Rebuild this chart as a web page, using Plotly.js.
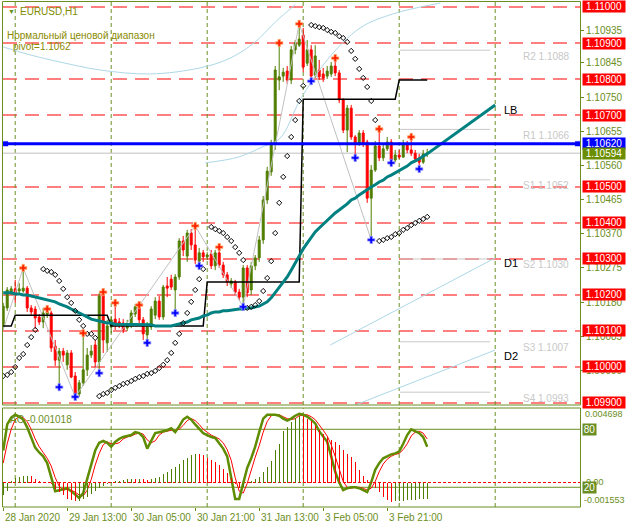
<!DOCTYPE html>
<html><head><meta charset="utf-8">
<script src="https://cdn.plot.ly/plotly-3.0.1.min.js"></script>
<style>html,body{margin:0;padding:0;background:#fff;}#chart{width:626px;height:528px;}</style>
</head><body><div id="chart"></div>
<script>
// ---------- DATA (EURUSD H1, bar index 0 = 28 Jan 2020 21:00) ----------
const openP = [1.10114,1.10164,1.10208,1.10217,1.10211,1.10211,1.10219,1.10164,1.10161,1.10139,
1.10125,1.10147,1.10150,1.10058,1.10019,1.10044,1.10006,1.10039,1.09975,1.09925,
1.09956,1.09992,1.10033,1.10061,1.10014,1.10197,1.10067,1.10111,1.10133,1.10125,
1.10122,1.10108,1.10117,1.10147,1.10164,1.10131,1.10089,1.10111,1.10144,1.10183,
1.10139,1.10225,1.10244,1.10214,1.10250,1.10350,1.10308,1.10372,1.10339,1.10294,
1.10317,1.10306,1.10314,1.10281,1.10317,1.10283,1.10256,1.10231,1.10236,1.10208,
1.10194,1.10275,1.10214,1.10281,1.10303,1.10353,1.10464,1.10542,1.10622,1.10797,
1.10808,1.10822,1.10797,1.10881,1.10894,1.10922,1.10844,1.10881,1.10811,1.10825,
1.10814,1.10808,1.10814,1.10836,1.10817,1.10742,1.10658,1.10719,1.10639,1.10622,
1.10650,1.10625,1.10469,1.10547,1.10614,1.10581,1.10606,1.10625,1.10575,1.10589,
1.10583,1.10619,1.10603,1.10594,1.10581,1.10569,1.10592];
const highP = [1.10178,1.10222,1.10225,1.10242,1.10233,1.10275,1.10225,1.10172,1.10169,1.10147,
1.10164,1.10161,1.10156,1.10075,1.10053,1.10053,1.10047,1.10047,1.09986,1.09964,
1.10094,1.10053,1.10061,1.10075,1.10206,1.10208,1.10131,1.10142,1.10178,1.10136,
1.10133,1.10131,1.10158,1.10175,1.10172,1.10139,1.10125,1.10169,1.10194,1.10197,
1.10228,1.10250,1.10256,1.10258,1.10358,1.10364,1.10381,1.10383,1.10392,1.10331,
1.10325,1.10319,1.10325,1.10325,1.10333,1.10292,1.10264,1.10247,1.10242,1.10217,
1.10283,1.10283,1.10292,1.10311,1.10364,1.10475,1.10556,1.10631,1.10836,1.10900,
1.10831,1.10836,1.10892,1.10908,1.10953,1.10942,1.10908,1.10894,1.10894,1.10853,
1.10831,1.10836,1.10847,1.10858,1.10825,1.10747,1.10728,1.10728,1.10644,1.10658,
1.10658,1.10631,1.10561,1.10628,1.10661,1.10617,1.10639,1.10633,1.10603,1.10603,
1.10631,1.10628,1.10639,1.10603,1.10592,1.10603,1.10606];
const lowP = [1.10103,1.10156,1.10200,1.10178,1.10200,1.10206,1.10153,1.10142,1.10106,1.10117,
1.10108,1.10136,1.10042,1.10003,1.09944,1.10014,1.09992,1.09969,1.09917,1.09917,
1.09947,1.09975,1.10025,1.09997,1.09983,1.10039,1.10042,1.10094,1.10103,1.10108,
1.10094,1.10100,1.10108,1.10139,1.10122,1.10075,1.10067,1.10103,1.10133,1.10131,
1.10131,1.10194,1.10214,1.10150,1.10242,1.10308,1.10292,1.10325,1.10286,1.10281,
1.10292,1.10297,1.10272,1.10269,1.10275,1.10247,1.10225,1.10219,1.10200,1.10186,
1.10167,1.10194,1.10200,1.10269,1.10292,1.10342,1.10453,1.10531,1.10603,1.10769,
1.10792,1.10786,1.10786,1.10869,1.10889,1.10819,1.10836,1.10794,1.10803,1.10797,
1.10792,1.10800,1.10806,1.10808,1.10733,1.10650,1.10597,1.10631,1.10581,1.10614,
1.10611,1.10456,1.10353,1.10542,1.10572,1.10572,1.10600,1.10567,1.10569,1.10578,
1.10581,1.10594,1.10586,1.10569,1.10550,1.10564,1.10583];
const closeP = [1.10169,1.10214,1.10217,1.10203,1.10217,1.10219,1.10164,1.10153,1.10136,1.10125,
1.10150,1.10153,1.10053,1.10019,1.10044,1.10033,1.10039,1.09972,1.09925,1.09956,
1.09992,1.10033,1.10044,1.10014,1.10197,1.10075,1.10114,1.10131,1.10122,1.10119,
1.10103,1.10119,1.10150,1.10167,1.10131,1.10092,1.10111,1.10161,1.10183,1.10139,
1.10222,1.10219,1.10222,1.10250,1.10350,1.10325,1.10372,1.10339,1.10297,1.10317,
1.10306,1.10311,1.10281,1.10317,1.10283,1.10256,1.10236,1.10239,1.10208,1.10194,
1.10275,1.10206,1.10281,1.10303,1.10353,1.10464,1.10544,1.10622,1.10825,1.10806,
1.10819,1.10797,1.10881,1.10900,1.10911,1.10833,1.10881,1.10808,1.10864,1.10806,
1.10803,1.10822,1.10836,1.10817,1.10742,1.10658,1.10719,1.10639,1.10619,1.10650,
1.10622,1.10469,1.10547,1.10614,1.10581,1.10606,1.10625,1.10575,1.10589,1.10583,
1.10619,1.10603,1.10594,1.10578,1.10569,1.10592,1.10594];
const maP = [1.10206,1.10206,1.10206,1.10203,1.10203,1.10200,1.10200,1.10197,1.10194,1.10192,
1.10189,1.10186,1.10183,1.10181,1.10175,1.10172,1.10167,1.10161,1.10156,1.10150,
1.10144,1.10139,1.10133,1.10131,1.10128,1.10125,1.10122,1.10122,1.10119,1.10119,
1.10119,1.10119,1.10119,1.10119,1.10117,1.10117,1.10117,1.10117,1.10114,1.10114,
1.10114,1.10114,1.10114,1.10117,1.10119,1.10122,1.10125,1.10131,1.10133,1.10136,
1.10142,1.10144,1.10150,1.10153,1.10153,1.10156,1.10156,1.10158,1.10158,1.10161,
1.10161,1.10164,1.10164,1.10167,1.10169,1.10175,1.10181,1.10192,1.10206,1.10219,
1.10233,1.10250,1.10269,1.10289,1.10308,1.10328,1.10344,1.10361,1.10375,1.10386,
1.10397,1.10408,1.10419,1.10428,1.10436,1.10444,1.10453,1.10464,1.10469,1.10478,
1.10486,1.10492,1.10500,1.10506,1.10514,1.10519,1.10528,1.10533,1.10539,1.10547,
1.10553,1.10558,1.10567,1.10572,1.10578,1.10586,1.10592];
const sarP = [1.09975,1.09978,1.09986,1.10000,1.10025,1.10036,1.10061,1.10083,1.10103,null,
1.10272,1.10267,1.10264,1.10256,1.10239,1.10217,1.10194,1.10178,1.10156,1.10131,
1.10114,1.10092,1.10092,1.10081,1.09919,1.09925,1.09928,1.09936,1.09942,1.09947,
1.09953,1.09956,1.09961,1.09967,1.09972,1.09975,1.09981,1.09983,1.09989,1.09997,
1.10006,1.10019,1.10039,1.10067,1.10092,1.10122,1.10150,1.10181,1.10214,1.10244,
1.10272,null,1.10389,1.10383,1.10378,1.10372,1.10361,1.10350,1.10333,1.10317,
1.10297,1.10164,1.10167,1.10172,1.10183,1.10211,1.10247,1.10294,1.10372,1.10456,
1.10528,1.10586,1.10639,1.10686,1.10739,1.10781,null,1.10950,1.10947,1.10944,
1.10942,1.10936,1.10931,1.10928,1.10919,1.10914,1.10903,1.10878,1.10856,1.10828,
1.10803,1.10778,1.10739,1.10686,1.10350,1.10353,1.10358,1.10361,1.10369,1.10372,
1.10381,1.10386,1.10394,1.10400,1.10406,1.10411,1.10417];
const upFractalIdx = [5,11,20,25,28,34,48,54,69,74,83,94,102];
const dnFractalIdx = [14,18,24,36,43,49,60,77,88,92,97,104];
const zigzagIdx = [0,5,18,48,60,74,92];
const dayStartIdx = [0,3,27,51,75,99];
const dayLevel = [1.10114,1.10144,1.10114,1.10236,1.10744,1.10797];
// light-blue range lines (index, price)
const bandUpIdx = [0,6.75,14.25,24.25,36.75,49.25,56.75,63,68,73];
const bandUpP = [1.10889,1.10867,1.10847,1.10825,1.10814,1.10831,1.10858,1.10903,1.10958,1.11006];
const bandMidIdx = [50.5,58.75,64.75,69.25,74.25,81,89.25,97.5,109.25];
const bandMidP = [1.10567,1.10583,1.10611,1.10636,1.10742,1.10853,1.10942,1.10981,1.11011];
const d1Idx = [81.75,123], d1P = [1.10061,1.10303];
const d2Idx = [81.75,123], d2P = [1.09867,1.10047];
const lbIdx = [106,123], lbP = [1.10592,1.10728];
// oscillators
const stochK = [58,85,92,95,93,90,82,72,61,56,52,45,30,16,17,18,19,16,12,9,
14,28,42,58,66,68,66,62,67,70,72,73,74,77,76,72,60,68,76,77,
78,79,81,77,83,90,93,90,85,80,76,74,72,71,66,60,52,31,8,8,
25,40,50,62,77,91,95,95,95,94,91,89,91,94,96,95,93,90,86,78,
73,67,52,36,25,17,19,20,20,19,17,15,25,38,45,50,52,54,55,57,
65,74,80,78,76,72,62];
const stochD = [45,65,80,90,93,92,88,80,70,62,56,50,42,30,21,17,18,17,15,12,
11,17,28,43,55,64,67,65,65,66,70,72,73,75,76,75,69,66,68,74,
77,78,79,79,80,84,89,91,89,85,80,77,74,72,70,66,59,48,30,16,
14,24,38,51,63,77,88,94,95,95,93,91,90,91,94,95,95,93,90,85,
79,73,64,52,38,26,20,19,20,20,19,17,19,26,36,44,49,52,54,55,
59,65,73,77,78,76,70];
const acVal = [-0.00080,-0.00050,0.00012,0.00030,0.00037,0.00043,0.00043,0.00042,0.00020,0.00008,
0.00004,0.00000,-0.00012,-0.00040,-0.00060,-0.00080,-0.00100,-0.00108,-0.00116,-0.00112,
-0.00100,-0.00090,-0.00070,-0.00050,-0.00033,-0.00020,-0.00012,0.00002,0.00008,0.00012,
0.00016,0.00020,0.00024,0.00022,0.00024,0.00020,0.00016,0.00022,0.00029,0.00037,
0.00050,0.00064,0.00085,0.00095,0.00116,0.00137,0.00153,0.00168,0.00178,0.00174,
0.00168,0.00153,0.00137,0.00126,0.00106,0.00085,0.00058,0.00029,-0.00008,-0.00033,
-0.00029,-0.00004,0.00012,0.00020,0.00037,0.00064,0.00095,0.00132,0.00199,0.00240,
0.00323,0.00344,0.00375,0.00402,0.00416,0.00410,0.00395,0.00381,0.00354,0.00327,
0.00302,0.00282,0.00265,0.00250,0.00230,0.00199,0.00178,0.00157,0.00126,0.00075,
0.00043,0.00017,0.00004,-0.00033,-0.00060,-0.00091,-0.00108,-0.00118,-0.00116,-0.00115,
-0.00113,-0.00111,-0.00109,-0.00107,-0.00105,-0.00104,-0.00102];
const redLevels = [1.11000,1.10900,1.10800,1.10700,1.10500,1.10400,1.10300,1.10200,1.10100,1.10000,1.09900];
const priceTicks = [1.10935,1.10845,1.10750,1.10655,1.10560,1.10465,1.10370,1.10275,1.10180,1.10085,1.09990];
const pivotValue = 1.1062;
const bidValue = 1.10594;
const pivotNames = ['R2','R1','S1','S2','S3','S4'];
const pivotLevels = [1.1088,1.1066,1.1052,1.1030,1.1007,1.0993];
const timeTickIdx = [0,16,32,48,64,80,96];
const timeTickText = ['28 Jan 2020','29 Jan 13:00','30 Jan 05:00','30 Jan 21:00','31 Jan 13:00','3 Feb 05:00','3 Feb 21:00'];
const gridIdx = [3,27,51,75,99,123];

// ---------- LAYOUT HELPERS ----------
const W=626,H=528;
const px=x=>x/W, py=y=>1-y/H;
const OL='#6b8e23', GREEN='#4f7d00', FONT='Liberation Sans, Arial, sans-serif';
const idx = openP.map((_,i)=>i);
const XR=[-0.05,144.2];
const X0=3, BARW=4; // chart left pixel, pixels per bar (for paper placement of time labels)

const traces=[];
[[bandUpIdx,bandUpP],[bandMidIdx,bandMidP],[d1Idx,d1P],[d2Idx,d2P]].forEach(([xx,yy])=>{
  traces.push({type:'scatter',mode:'lines',x:xx,y:yy,line:{color:'#add8e6',width:1,shape:'spline'},hoverinfo:'skip',xaxis:'x',yaxis:'y'});
});
traces.push({type:'scatter',mode:'lines',x:zigzagIdx,y:zigzagIdx.map((k,j)=> j%2===0? lowP[k]:highP[k]),line:{color:'#c0c0c0',width:1},xaxis:'x',yaxis:'y',hoverinfo:'skip'});
const stepP = idx.map(i=>{let v=dayLevel[0];dayStartIdx.forEach((s,j)=>{if(i>=s)v=dayLevel[j];});return v;});
traces.push({type:'scatter',mode:'lines',x:idx,y:stepP,line:{color:'#000000',width:1.5},xaxis:'x',yaxis:'y',hoverinfo:'skip'});
traces.push({type:'candlestick',x:idx,open:openP,high:highP,low:lowP,close:closeP,
  increasing:{line:{color:GREEN,width:1},fillcolor:GREEN},
  decreasing:{line:{color:'#ff0000',width:1},fillcolor:'#ff0000'},
  whiskerwidth:0,xaxis:'x',yaxis:'y',hoverinfo:'skip'});
traces.push({type:'scatter',mode:'lines',x:idx,y:maP,line:{color:'#008080',width:3},xaxis:'x',yaxis:'y',hoverinfo:'skip'});
traces.push({type:'scatter',mode:'lines',x:lbIdx,y:lbP,line:{color:'#008080',width:3},xaxis:'x',yaxis:'y',hoverinfo:'skip'});
traces.push({type:'scatter',mode:'markers',x:idx,y:sarP,marker:{symbol:'diamond-open',size:4,color:'#000',line:{width:1,color:'#000'}},xaxis:'x',yaxis:'y',hoverinfo:'skip'});
traces.push({type:'scatter',mode:'markers',x:upFractalIdx,y:upFractalIdx.map(k=>highP[k]),marker:{symbol:'cross',size:6,color:'#ff2000',line:{color:'#ffa060',width:0.8}},xaxis:'x',yaxis:'y',hoverinfo:'skip'});
traces.push({type:'scatter',mode:'markers',x:dnFractalIdx,y:dnFractalIdx.map(k=>lowP[k]),marker:{symbol:'cross',size:6,color:'#0000ff',line:{color:'#9090ff',width:0.8}},xaxis:'x',yaxis:'y',hoverinfo:'skip'});
traces.push({type:'scatter',mode:'markers',x:[0.6,143.6],y:[pivotValue,pivotValue],marker:{symbol:'square',size:6,color:'#0000ff',line:{color:'#ffffff',width:1}},xaxis:'x',yaxis:'y',hoverinfo:'skip'});
const acColors = acVal.map((v,i)=> i===0 ? GREEN : (v>=acVal[i-1]? GREEN : '#ff0000'));
traces.push({type:'bar',x:idx,y:acVal,width:0.25,marker:{color:acColors,line:{width:0}},xaxis:'x2',yaxis:'y3',hoverinfo:'skip'});
traces.push({type:'scatter',mode:'lines',x:idx,y:stochD,line:{color:'#ff0000',width:1},xaxis:'x2',yaxis:'y2',hoverinfo:'skip'});
traces.push({type:'scatter',mode:'lines',x:idx,y:stochK,line:{color:'#5f8c00',width:2.5},xaxis:'x2',yaxis:'y2',hoverinfo:'skip'});

const shapes=[];
redLevels.forEach(v=>shapes.push({type:'line',xref:'paper',x0:px(3),x1:px(580),yref:'y',y0:v,y1:v,line:{color:'#ff0000',width:1.2,dash:'14px,8px'},layer:'below'}));
gridIdx.forEach(g=>{
  shapes.push({type:'line',xref:'x',x0:g,x1:g,yref:'paper',y0:py(405),y1:py(2),line:{color:OL,width:1,dash:'4px,3px'},layer:'below'});
  shapes.push({type:'line',xref:'x2',x0:g,x1:g,yref:'paper',y0:py(507),y1:py(408),line:{color:OL,width:1,dash:'4px,3px'},layer:'below'});
});
pivotLevels.forEach(v=>shapes.push({type:'line',xref:'x',x0:99.25,x1:121.75,yref:'y',y0:v,y1:v,line:{color:'#c8c8c8',width:1},layer:'below'}));
shapes.push({type:'line',xref:'paper',x0:px(3),x1:px(580),yref:'y',y0:bidValue,y1:bidValue,line:{color:'#c0c0c0',width:1},layer:'below'});
shapes.push({type:'line',xref:'paper',x0:px(3),x1:px(580),yref:'y',y0:pivotValue,y1:pivotValue,line:{color:'#0000ff',width:3}});
[80,20].forEach(v=>shapes.push({type:'line',xref:'paper',x0:px(3),x1:px(580),yref:'y2',y0:v,y1:v,line:{color:OL,width:1},layer:'below'}));
shapes.push({type:'line',xref:'paper',x0:px(3),x1:px(580),yref:'y3',y0:0,y1:0,line:{color:'#ff0000',width:1,dash:'3px,2px'},layer:'below'});
shapes.push({type:'rect',xref:'paper',yref:'paper',x0:px(2.5),x1:px(580.5),y0:py(405),y1:py(1.5),line:{color:OL,width:1},fillcolor:'rgba(0,0,0,0)'});
shapes.push({type:'rect',xref:'paper',yref:'paper',x0:px(2.5),x1:px(580.5),y0:py(507),y1:py(408),line:{color:OL,width:1},fillcolor:'rgba(0,0,0,0)'});

const ann=[];
const lab=(o)=>ann.push(Object.assign({showarrow:false,font:{family:FONT,size:10,color:OL}},o));
redLevels.forEach(v=>lab({xref:'paper',x:px(582),xanchor:'left',yref:'y',y:v,yanchor:'middle',text:v.toFixed(5),bgcolor:'#ff0000',font:{family:FONT,size:10,color:'#fff'},borderpad:0,width:42,height:11}));
lab({xref:'paper',x:px(582),xanchor:'left',yref:'y',y:pivotValue,yanchor:'middle',text:pivotValue.toFixed(5),bgcolor:'#0000ff',font:{family:FONT,size:10,color:'#fff'},borderpad:0,width:42,height:11});
lab({xref:'paper',x:px(582),xanchor:'left',yref:'y',y:bidValue,yanchor:'middle',text:bidValue.toFixed(5),bgcolor:'#6b8e00',font:{family:FONT,size:10,color:'#fff'},borderpad:0,width:42,height:11});
pivotNames.forEach((n,j)=>lab({xref:'x',x:129.5,xanchor:'left',yref:'y',y:pivotLevels[j],yanchor:'middle',yshift:-6,text:n+' '+pivotLevels[j].toFixed(4),font:{family:FONT,size:10,color:'#c8c8c8'}}));
[['LB',1.10714],['D1',1.10289],['D2',1.10031]].forEach(([t,v])=>lab({xref:'x',x:124.6,xanchor:'left',yref:'y',y:v,yanchor:'middle',text:t,font:{family:FONT,size:11,color:'#000'}}));
lab({xref:'paper',yref:'paper',x:px(6),y:py(11),xanchor:'left',yanchor:'middle',text:'▼',font:{family:FONT,size:7,color:OL}});
lab({xref:'paper',yref:'paper',x:px(18),y:py(11),xanchor:'left',yanchor:'middle',text:'EURUSD,H1',font:{family:FONT,size:10,color:'#7f8c00'}});
lab({xref:'paper',yref:'paper',x:px(5),y:py(35),xanchor:'left',yanchor:'middle',text:'Нормальный ценовой диапазон',font:{family:FONT,size:10,color:'#8a8a00'}});
lab({xref:'paper',yref:'paper',x:px(11),y:py(47),xanchor:'left',yanchor:'middle',text:'pivot=1.1062',font:{family:FONT,size:10,color:'#8a8a00'}});
lab({xref:'paper',yref:'paper',x:px(8),y:py(419),xanchor:'left',yanchor:'middle',text:'AC -0.001018',font:{family:FONT,size:10,color:OL}});
lab({xref:'paper',yref:'paper',x:px(583),y:py(414),xanchor:'left',yanchor:'middle',text:'0.004698',font:{family:FONT,size:9,color:OL}});
lab({xref:'paper',yref:'paper',x:px(584),y:py(482),xanchor:'left',yanchor:'middle',text:'0.00',font:{family:FONT,size:9,color:OL}});
lab({xref:'paper',yref:'paper',x:px(582),y:py(500),xanchor:'left',yanchor:'middle',text:'-0.001553',font:{family:FONT,size:9,color:OL}});
lab({xref:'paper',x:px(582),xanchor:'left',yref:'y2',y:80,yanchor:'middle',text:'80',bgcolor:OL,font:{family:FONT,size:10,color:'#fff'},borderpad:0,height:11,width:13});
lab({xref:'paper',x:px(582),xanchor:'left',yref:'y2',y:20,yanchor:'middle',text:'20',bgcolor:OL,font:{family:FONT,size:10,color:'#fff'},borderpad:0,height:11,width:13});
timeTickIdx.forEach((k,j)=>lab({xref:'paper',x:px(X0+BARW*k),xanchor:'left',yref:'paper',y:py(517),yanchor:'middle',text:timeTickText[j]}));

const layout={width:W,height:H,margin:{l:0,r:0,t:0,b:0},paper_bgcolor:'#fff',plot_bgcolor:'#fff',showlegend:false,
  bargap:0,
  xaxis:{domain:[px(3),px(580)],range:XR,showgrid:false,zeroline:false,showticklabels:false,ticks:'',rangeslider:{visible:false},fixedrange:true,anchor:'y'},
  yaxis:{domain:[py(405),py(2)],range:[1.098944,1.110139],side:'right',anchor:'x',showgrid:false,zeroline:false,
    tickvals:priceTicks,ticktext:priceTicks.map(v=>v.toFixed(5)),ticks:'outside',ticklen:3,tickcolor:OL,
    tickfont:{family:FONT,size:10,color:OL},fixedrange:true},
  xaxis2:{domain:[px(3),px(580)],range:XR,anchor:'y2',showgrid:false,zeroline:false,showticklabels:false,
    tickvals:timeTickIdx,ticks:'outside',ticklen:3,tickcolor:OL,fixedrange:true},
  yaxis2:{domain:[py(507),py(408)],range:[-0.4,102],anchor:'x2',showgrid:false,zeroline:false,showticklabels:false,fixedrange:true},
  yaxis3:{domain:[py(507),py(408)],range:[-0.001521,0.004627],overlaying:'y2',anchor:'x2',side:'right',showgrid:false,zeroline:false,showticklabels:false,fixedrange:true},
  shapes:shapes,annotations:ann};
Plotly.newPlot('chart',traces,layout,{staticPlot:true,displayModeBar:false});
</script></body></html>
